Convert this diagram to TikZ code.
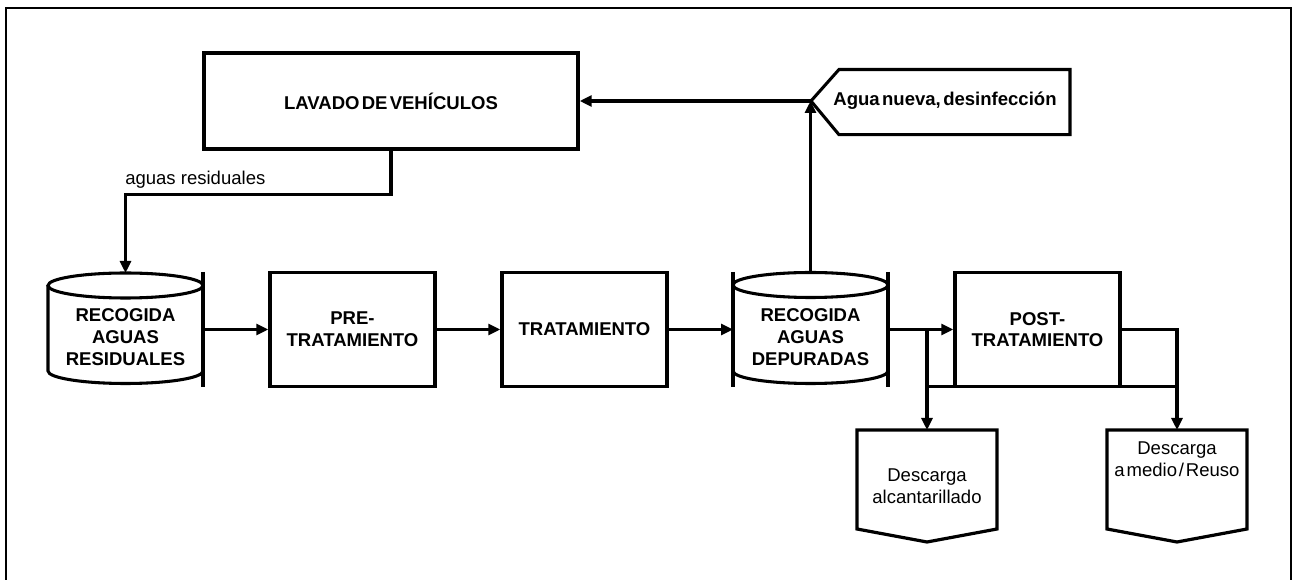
\documentclass[tikz,border=0pt]{standalone}
\usepackage{fontspec}
\setmainfont{Liberation Sans}
\usetikzlibrary{arrows.meta}
\newcommand\myfs{\fontsize{13.9pt}{16.3pt}\selectfont}
\newcommand\tightsp[1]{\spaceskip=#1em\relax}
\begin{document}
\begin{tikzpicture}[x=0.75pt,y=-0.75pt,
  boxst/.style={draw, line width=2.6pt, minimum width=123.75pt, minimum height=85.5pt, inner sep=0pt, align=center, font=\myfs\bfseries},
  btext/.style={align=center, inner sep=0pt, font=\myfs\bfseries},
  ntext/.style={align=center, inner sep=0pt, font=\myfs},
  area/.style={draw=none, inner sep=0pt, outer sep=0pt},
  cyl/.style={line width=2.3pt},
  bar/.style={line width=2.4pt},
  conn/.style={line width=2.4pt},
  arr/.style={line width=2.4pt, -{Triangle[length=9pt,width=8.25pt]}},
  frame/.style={line width=1.5pt}]
\useasboundingbox (0,0) rectangle (1293,580);
\draw[frame] (6,580) -- (6,8) -- (1291,8) -- (1291,580);

% top box
\node[boxst, minimum width=280.5pt, minimum height=72pt] (lav) at (391,101) {\tightsp{0.12}LAVADO DE VEHÍCULOS};

% agua nueva pentagon
\node[area, minimum width=173.25pt, minimum height=48.9pt] (agua) at (954.5,102) {};
\draw[line width=2.3pt] (811,101) -- (839,69.5) -- (1070,69.5) -- (1070,134.7) -- (839,134.7) -- cycle;
\node[btext] (aguat) at (945,101) {\tightsp{0.13}Agua nueva, desinfección};
\coordinate (tip) at (810.5,101);

% cylinder 1
\node[area, minimum width=116.25pt, minimum height=86.25pt] (c1) at (125.5,329.5) {};
\draw[cyl] (48,285.5) -- (48,371) arc[start angle=180,end angle=360,x radius=58.125pt,y radius=9.375pt] -- (203,285.5);
\draw[cyl] (125.5,285.5) ellipse [x radius=58.125pt, y radius=9.375pt];
\draw[bar] (c1.north east) -- (c1.south east);
\node[btext] (c1t) at (125.5,337) {RECOGIDA\\AGUAS\\RESIDUALES};
\coordinate (c1top) at (125.5,273);

% boxes
\node[boxst] (pre) at (352.5,329.5) {PRE-\\TRATAMIENTO};
\node[boxst] (trat) at (584.5,329.5) {TRATAMIENTO};

% cylinder 2
\node[area, minimum width=116.25pt, minimum height=86.25pt] (c2) at (810.5,329.5) {};
\draw[cyl] (733,285) -- (733,371) arc[start angle=180,end angle=360,x radius=58.125pt,y radius=9.375pt] -- (888,285);
\draw[cyl] (810.5,285) ellipse [x radius=58.125pt, y radius=9.375pt];
\draw[bar] (c2.north west) -- (c2.south west);
\draw[bar] (c2.north east) -- (c2.south east);
\node[btext] (c2t) at (810.5,337) {RECOGIDA\\AGUAS\\DEPURADAS};
\coordinate (c2top) at (810.5,272.5);

\node[boxst] (post) at (1037.5,329.5) {POST-\\TRATAMIENTO};

% descarga shapes
\node[area, minimum width=105pt, minimum height=84pt, align=center, font=\myfs] (d1) at (927,486) {Descarga\\alcantarillado};
\draw[line width=2.4pt] (857,430) -- (997,430) -- (997,529) -- (927,542) -- (857,529) -- cycle;
\node[area, minimum width=105pt, minimum height=84pt] (d2) at (1177,486) {};
\draw[line width=2.4pt] (1107,430) -- (1247,430) -- (1247,529) -- (1177,542) -- (1107,529) -- cycle;
\node[ntext] (d2t) at (1177,459.5) {Descarga\\\tightsp{0.1}a medio / Reuso};

% connectors
\draw[arr] (lav.south) -- ++(0,44) -| (c1top);
\node[ntext, anchor=west] (lbl) at (125,180) {aguas residuales};
\draw[arr] (c1.east) -- (pre.west);
\draw[arr] (pre.east) -- (trat.west);
\draw[arr] (trat.east) -- (c2.west);
\draw[arr] (c2.east) -- (post.west);
\draw[arr] (c2top) -- (tip);
\draw[arr] (tip) -- (lav.east);
\draw[arr] (c2.east -| d1.north) -- (d1.north);
\draw[arr] (post.east) -| (d2.north);
\draw[conn] ([yshift=1.3pt]post.south -| d1.north) -- ([yshift=1.3pt]post.south -| d2.north);
\end{tikzpicture}
\end{document}
